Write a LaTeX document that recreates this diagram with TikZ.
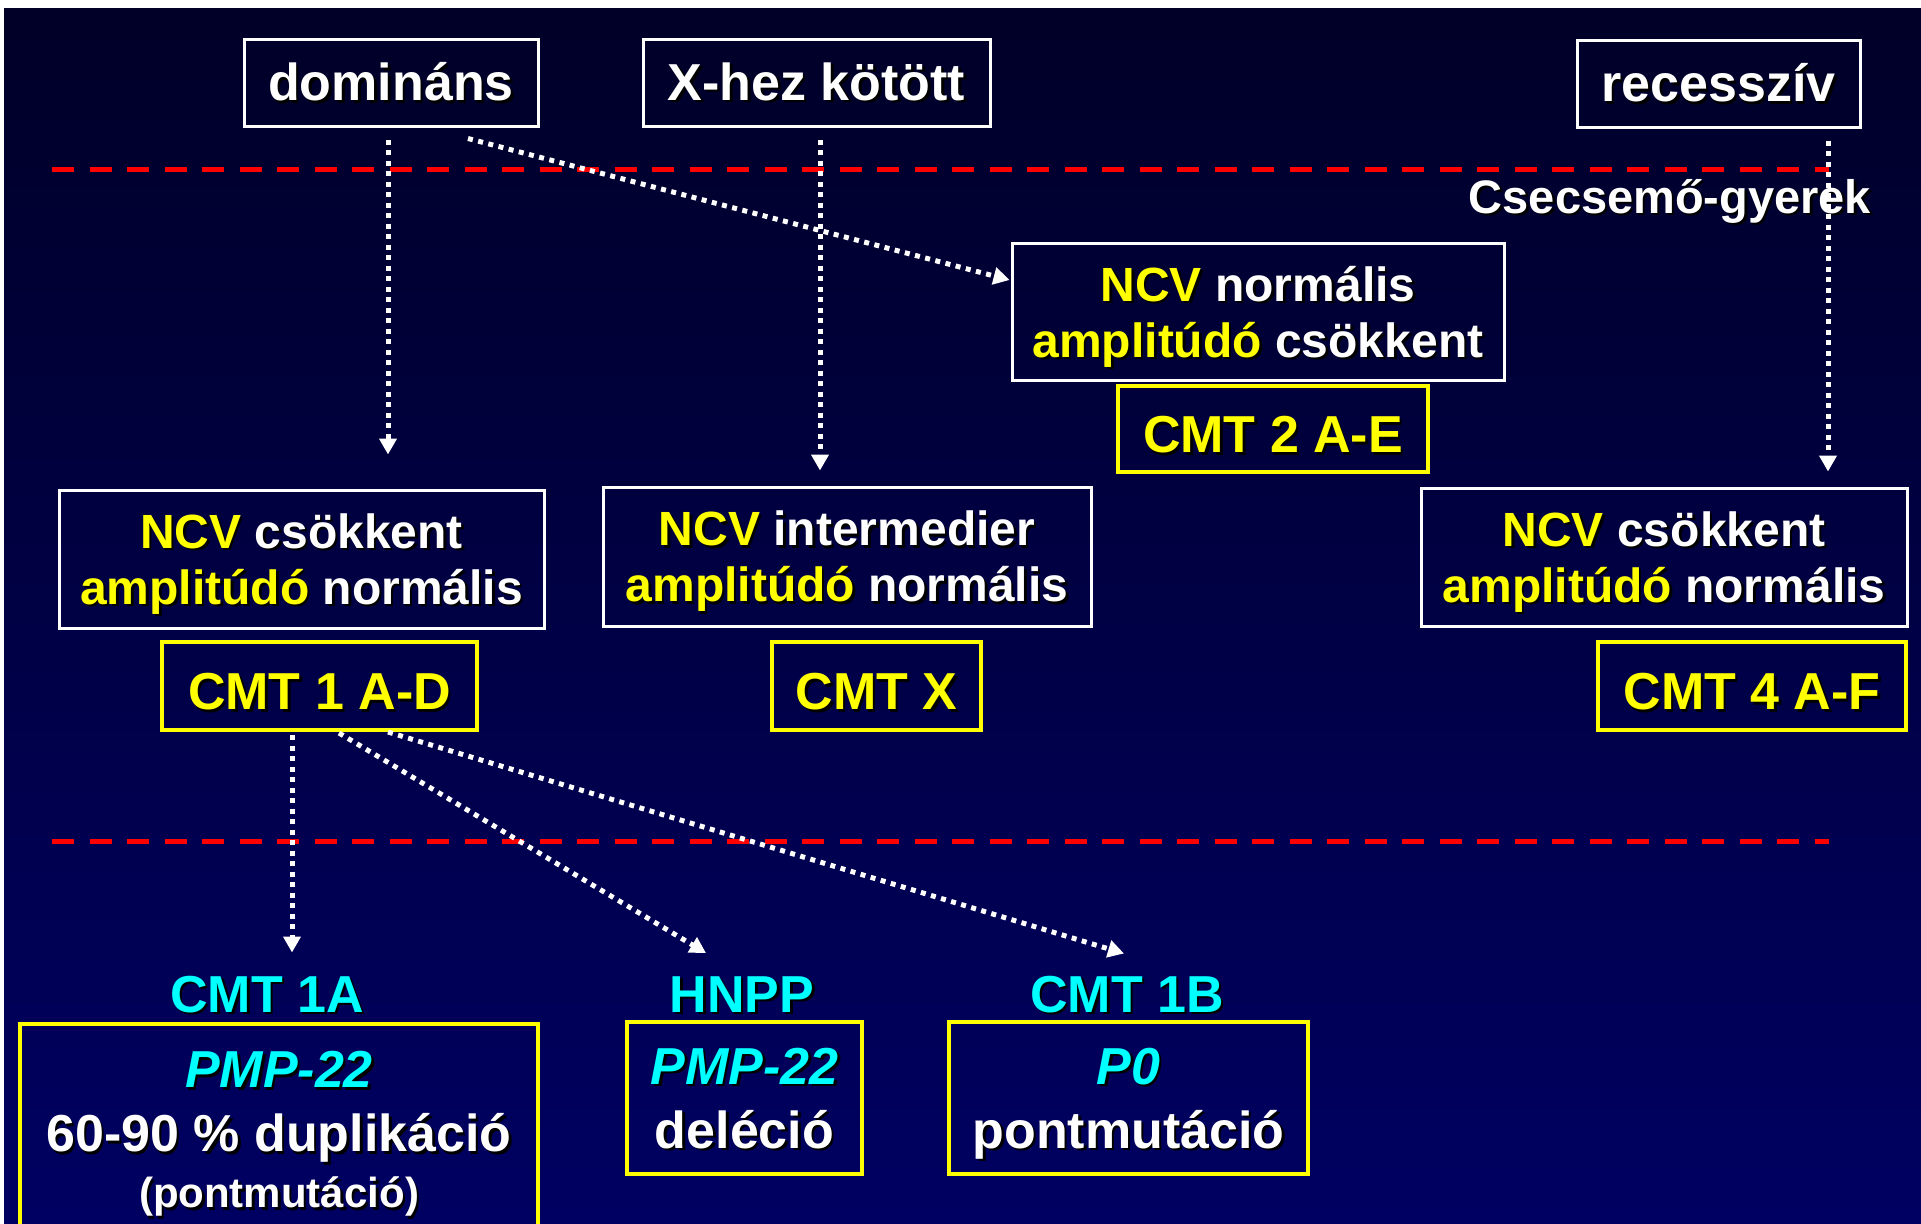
\documentclass[tikz,border=0pt]{standalone}
\usepackage{fontspec}
\setmainfont{Liberation Sans}
\usetikzlibrary{arrows.meta,calc}
\definecolor{bgtop}{RGB}{0,0,40}
\definecolor{bgbot}{RGB}{0,0,98}
\definecolor{txtY}{RGB}{255,255,0}
\definecolor{txtW}{RGB}{255,255,255}
\definecolor{txtC}{RGB}{0,255,255}
\definecolor{dashred}{RGB}{255,0,0}
\newcommand\shd[1]{\leavevmode\rlap{\color{black}\colorlet{txtY}{black}\colorlet{txtW}{black}\colorlet{txtC}{black}\kern2.5pt\raisebox{-2.5pt}{#1}}#1}
\newcommand\Yc[1]{{\color{txtY}#1}}
\newcommand\Cc[1]{{\color{txtC}#1}}
\newcommand\fsA{\fontsize{52}{64}\selectfont}
\newcommand\fsB{\fontsize{48}{56}\selectfont}
\newcommand\fsC{\fontsize{42}{48}\selectfont}
\tikzset{
  every node/.style={font=\bfseries, text=txtW, inner sep=0pt, align=center},
  wbox/.style={draw=white, line width=3pt},
  ybox/.style={draw=txtY, line width=4pt},
  toplab/.style={wbox, font=\bfseries\fsA, minimum height=86pt},
  ncvbox/.style={wbox, font=\bfseries\fsB, minimum height=138pt, text depth=0pt},
  cmtbox/.style={ybox, font=\bfseries\fsA, text=txtY, minimum height=88pt, text height=47pt, text depth=0pt},
  genebox/.style={ybox, font=\bfseries\fsA, text depth=0pt},
  sublab/.style={font=\bfseries\fsA, text=txtC, anchor=base},
  dotarrow/.style={draw=white, line width=5pt, dash pattern=on 5pt off 5.5pt,
    -{Triangle[width=17pt,length=16pt]}},
  redline/.style={draw=dashred, line width=5pt, dash pattern=on 22pt off 15.5pt}
}
\begin{document}
\begin{tikzpicture}[x=1pt,y=-1pt]
\useasboundingbox (0,0) rectangle (1921,1223);
\clip (0,0) rectangle (1921,1223);
\fill[white] (0,0) rectangle (1921,1223);
\shade[top color=bgtop,bottom color=bgbot] (4,9) rectangle (1921,1223);

% red dashed separators
\draw[redline] (52,169) -- (1829,169);
\draw[redline] (52,841) -- (1829,841);

% top labels
\node[toplab, minimum width=294pt] (dom) at (391,83) {\shd{domináns}};
\node[toplab, minimum width=347pt] (xh) at (816.5,83) {\shd{X-hez kötött}};
\node[toplab, minimum width=283pt] (rec) at (1718.5,84) {\shd{recesszív}};

\node[font=\bfseries\fontsize{47}{56}\selectfont, anchor=base] (csec) at (1670,213) {\shd{Csecsemő-gyerek}};

% NCV boxes
\node[ncvbox, minimum width=492pt, minimum height=137pt] (ncvN) at (1258,311.5)
  {\shd{\Yc{NCV} normális}\\\shd{\Yc{amplitúdó} csökkent}};
\node[cmtbox, minimum width=310pt, minimum height=86pt] (cmt2) at (1273,429) {\shd{CMT 2 A-E}};

\node[ncvbox, minimum width=485pt] (ncv1) at (301.5,559)
  {\shd{\Yc{NCV} csökkent}\\\shd{\Yc{amplitúdó} normális}};
\node[cmtbox, minimum width=315pt] (cmt1) at (319.5,686) {\shd{CMT 1 A-D}};

\node[ncvbox, minimum width=488pt, minimum height=139pt] (ncvX) at (847,556.5)
  {\shd{\Yc{NCV} intermedier}\\\shd{\Yc{amplitúdó} normális}};
\node[cmtbox, minimum width=209pt] (cmtX) at (876.5,686) {\shd{CMT X}};

\node[ncvbox, minimum width=486pt] (ncv4) at (1664,557)
  {\shd{\Yc{NCV} csökkent}\\\shd{\Yc{amplitúdó} normális}};
\node[cmtbox, minimum width=308pt] (cmt4) at (1752,686) {\shd{CMT 4 A-F}};

% bottom labels
\node[sublab] (l1a) at (267,1012) {\shd{CMT 1A}};
\node[sublab] (lhn) at (742,1012) {\shd{HNPP}};
\node[sublab] (l1b) at (1127,1012) {\shd{CMT 1B}};

% gene boxes
\node[ybox, font=\bfseries\fsA, anchor=north, minimum width=518pt, minimum height=222pt] (b1a) at (279,1022)
  {\shd{\Cc{\itshape PMP-22}}\\\shd{60-90 \% duplikáció}\\[-8pt]{\fsC\shd{(pontmutáció)}}};
\node[genebox, minimum width=235pt, minimum height=152pt] (bhn) at (744.5,1098)
  {\shd{\Cc{\itshape PMP-22}}\\\shd{deléció}};
\node[genebox, minimum width=359pt, minimum height=152pt] (b1b) at (1128.5,1098)
  {\shd{\Cc{\itshape P0}}\\\shd{pontmutáció}};

% connector endpoints
\coordinate (domS) at ($(dom.south)+(-3,12)$);
\coordinate (domD) at ($(dom.south)+(77,11)$);
\coordinate (xhS) at ($(xh.south)+(3.5,12)$);
\coordinate (recS) at ($(rec.south)+(109.5,12)$);
\coordinate (ncv1T) at ($(ncv1.north)+(86.5,-34)$);
\coordinate (ncvNT) at ($(ncvN.west)+(-1,-31.5)$);
\coordinate (ncvXT) at ($(ncvX.north)+(-27,-15)$);
\coordinate (ncv4T) at ($(ncv4.north)+(164,-15)$);
\coordinate (c1a) at ($(cmt1.south)+(-27.5,3)$);
\coordinate (c1b) at ($(cmt1.south)+(19.5,1)$);
\coordinate (c1c) at ($(cmt1.south)+(68.5,0)$);
\coordinate (l1aT) at ($(l1a.north)+(25,-23)$);
\coordinate (lhnT) at ($(lhn.north)+(-36,-23)$);
\coordinate (l1bT) at ($(l1b.north)+(-3,-22)$);

% connectors
\draw[dotarrow] (domS) -- (ncv1T);
\draw[dotarrow] (domD) -- (ncvNT);
\draw[dotarrow] (xhS) -- (ncvXT);
\draw[dotarrow] (recS) -- (ncv4T);
\draw[dotarrow] (c1a) -- (l1aT);
\draw[dotarrow] (c1b) -- (lhnT);
\draw[dotarrow] (c1c) -- (l1bT);
\end{tikzpicture}
\end{document}
